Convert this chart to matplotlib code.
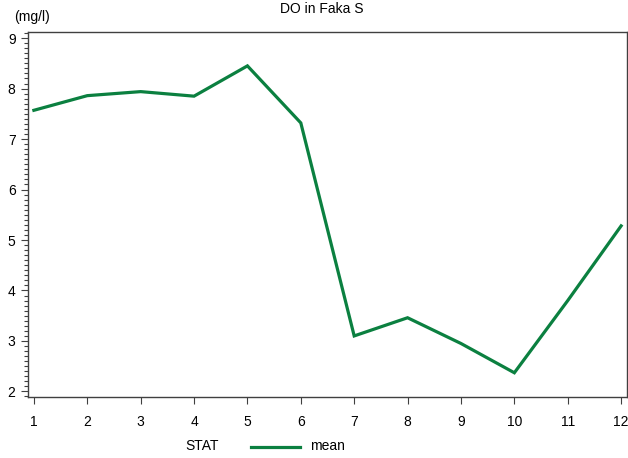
import numpy as np
import matplotlib.pyplot as plt
from matplotlib.ticker import MultipleLocator
from matplotlib.lines import Line2D

plt.rcParams['font.family'] = ['Liberation Sans', 'DejaVu Sans']

months = [1, 2, 3, 4, 5, 6, 7, 8, 9, 10, 11, 12]
do_mean = [7.57, 7.86, 7.94, 7.85, 8.45, 7.32, 3.10, 3.46, 2.95, 2.37, 3.80, 5.28]

line_color = "#0b8040"
axis_color = "#404040"

fig = plt.figure(figsize=(6.28, 4.58), dpi=100)
ax = fig.add_axes([0.0446, 0.1332, 0.9538, 0.7968])

ax.plot(months, do_mean, color=line_color, linewidth=2.3, solid_joinstyle="miter")

ax.set_xlim(0.89, 12.11)
ax.set_ylim(1.89, 9.12)
ax.set_xticks(months)
ax.set_yticks(range(2, 10))
ax.yaxis.set_minor_locator(MultipleLocator(0.1))

for s in ax.spines.values():
    s.set_color(axis_color)
    s.set_linewidth(1.0)

ax.tick_params(axis="both", which="major", direction="out", length=5, width=0.8,
               color=axis_color, labelsize=10)
ax.tick_params(axis="x", which="major", pad=8)
ax.tick_params(axis="y", which="major", pad=4)
ax.tick_params(axis="y", which="minor", direction="out", length=3, width=0.8, color=axis_color)
ax.tick_params(axis="x", which="minor", length=0)

fig.text(0.513, 0.995, "DO in Faka S", ha="center", va="top", fontsize=10)
fig.text(0.022, 0.978, "(mg/l)", ha="left", va="top", fontsize=10)

# legend at bottom
fig.text(0.321, 0.011, "STAT", ha="center", va="bottom", fontsize=10)
fig.add_artist(Line2D([0.399, 0.478], [0.024, 0.024], color=line_color, linewidth=2.3,
                      transform=fig.transFigure))
fig.text(0.494, 0.011, "mean", ha="left", va="bottom", fontsize=10)

plt.savefig("out.png", dpi=100)
plt.close()
